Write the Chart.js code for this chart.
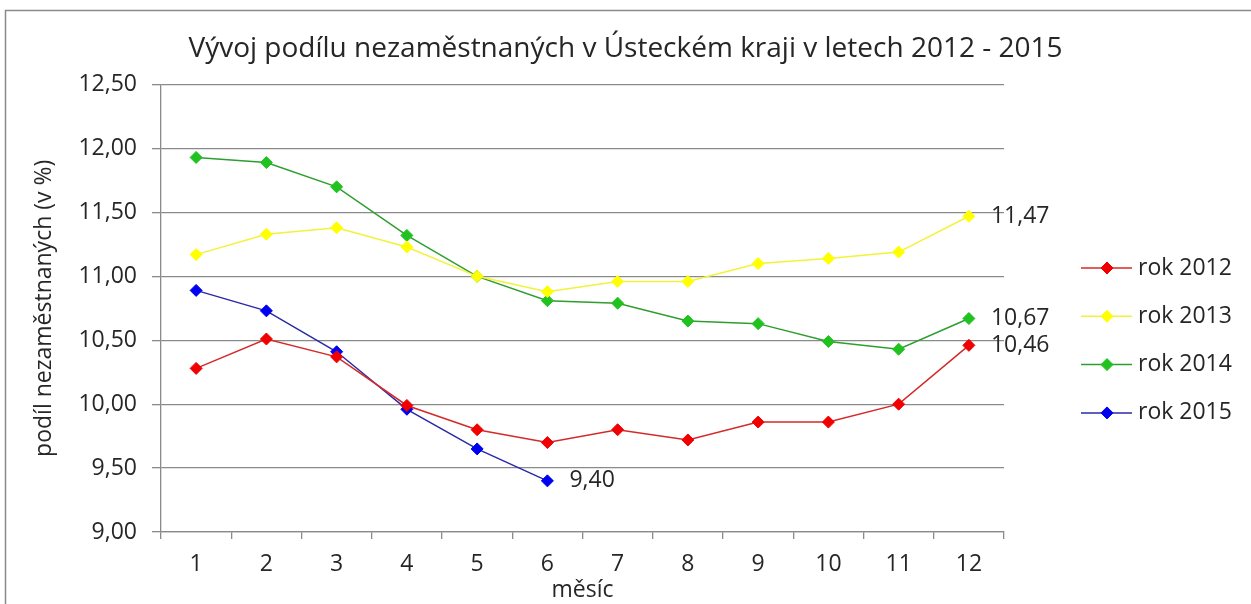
<!DOCTYPE html>
<html>
<head>
<meta charset="utf-8">
<script src="https://cdn.jsdelivr.net/npm/chart.js@4.4.0/dist/chart.umd.min.js"></script>
<style>
    html, body { margin: 0; padding: 0; background: #fff; }
    #wrap { position: relative; width: 1251px; height: 604px; }
</style>
</head>
<body>
<div id="wrap"><canvas id="graf"></canvas></div>
<script>
var mesice = ["1", "2", "3", "4", "5", "6", "7", "8", "9", "10", "11", "12"];
var rok2012 = [10.28, 10.51, 10.37, 9.99, 9.80, 9.70, 9.80, 9.72, 9.86, 9.86, 10.00, 10.46];
var rok2013 = [11.17, 11.33, 11.38, 11.23, 11.00, 10.88, 10.96, 10.96, 11.10, 11.14, 11.19, 11.47];
var rok2014 = [11.93, 11.89, 11.70, 11.32, 11.00, 10.81, 10.79, 10.65, 10.63, 10.49, 10.43, 10.67];
var rok2015 = [10.89, 10.73, 10.41, 9.96, 9.65, 9.40, null, null, null, null, null, null];
var yMin = 9, yMax = 12.5, yKrok = 0.5;

var pismo = "'Open Sans', sans-serif";
var velikost = 23;
var textBarva = "#262626";
var mrizka = "#8a8a8a";

function cislo(v) {
    return v.toFixed(2).replace(".", ",");
}

// bile pozadi + sedy ramecek
var pozadi = {
    id: "pozadi",
    beforeDraw: function (chart) {
        var ctx = chart.ctx;
        ctx.save();
        ctx.fillStyle = "#fff";
        ctx.fillRect(0, 0, chart.width, chart.height);
        ctx.strokeStyle = "#8a8a8a";
        ctx.lineWidth = 1.5;
        ctx.strokeRect(5.5, 10.5, 1400, 800);
        ctx.restore();
    }
};

// hodnota u posledniho bodu rady
var popisky = {
    id: "popisky",
    afterDatasetsDraw: function (chart) {
        var ctx = chart.ctx;
        ctx.save();
        ctx.font = velikost + "px " + pismo;
        ctx.fillStyle = textBarva;
        ctx.textAlign = "left";
        ctx.textBaseline = "middle";
        chart.data.datasets.forEach(function (ds, i) {
            var posl = -1;
            ds.data.forEach(function (v, j) { if (v !== null) posl = j; });
            var bod = chart.getDatasetMeta(i).data[posl];
            ctx.fillText(cislo(ds.data[posl]), bod.x + 22, bod.y);
        });
        ctx.restore();
    }
};

// legenda vpravo: cara + kosoctverec
var legenda = {
    id: "legenda",
    afterDraw: function (chart) {
        var ctx = chart.ctx;
        var x0 = 1081, y0 = 268, krok = 48.3;
        ctx.save();
        ctx.font = velikost + "px " + pismo;
        ctx.textBaseline = "middle";
        chart.data.datasets.forEach(function (ds, i) {
            var y = y0 + i * krok;
            ctx.strokeStyle = ds.borderColor;
            ctx.lineWidth = 1.5;
            ctx.beginPath();
            ctx.moveTo(x0, y);
            ctx.lineTo(x0 + 51, y);
            ctx.stroke();
            ctx.fillStyle = ds.pointBackgroundColor;
            ctx.strokeStyle = ds.pointBorderColor;
            ctx.lineWidth = 1;
            ctx.beginPath();
            ctx.moveTo(x0 + 26, y - 6);
            ctx.lineTo(x0 + 32, y);
            ctx.lineTo(x0 + 26, y + 6);
            ctx.lineTo(x0 + 20, y);
            ctx.closePath();
            ctx.fill();
            ctx.stroke();
            ctx.fillStyle = textBarva;
            ctx.fillText(ds.label, x0 + 57, y);
        });
        ctx.restore();
    }
};

function rada(nazev, data, cara, bod) {
    return {
        label: nazev,
        data: data,
        borderColor: cara,
        backgroundColor: bod,
        pointBackgroundColor: bod,
        pointBorderColor: bod,
        borderWidth: 1.5,
        pointStyle: "rectRot",
        pointRadius: 6,
        pointBorderWidth: 1,
        tension: 0,
        fill: false,
        spanGaps: false
    };
}

var graf = new Chart(document.getElementById("graf"), {
    type: "line",
    data: {
        labels: mesice,
        datasets: [
            rada("rok 2012", rok2012, "#d42a2a", "#f00000"),
            rada("rok 2013", rok2013, "#f2f23a", "#ffff00"),
            rada("rok 2014", rok2014, "#2e9e2e", "#1fc21f"),
            rada("rok 2015", rok2015, "#2a2aa8", "#0000f0")
        ]
    },
    options: {
        responsive: true,
        maintainAspectRatio: false,
        animation: false,
        layout: { padding: 0 },
        plugins: {
            legend: { display: false },
            tooltip: { enabled: false },
            title: {
                display: true,
                text: "Vývoj podílu nezaměstnaných v Ústeckém kraji v letech 2012 - 2015",
                color: textBarva,
                font: { family: pismo, size: 28, weight: "normal" },
                padding: { top: 32, bottom: 19 }
            }
        },
        scales: {
            x: {
                offset: true,
                grid: { drawOnChartArea: false, drawTicks: true, tickLength: 7, offset: true, color: mrizka, lineWidth: 1.3 },
                border: { color: mrizka, width: 1.3 },
                ticks: { color: textBarva, font: { family: pismo, size: velikost }, padding: 12, maxRotation: 0 },
                title: { display: true, text: "měsíc", color: textBarva, font: { family: pismo, size: velikost }, padding: 0 },
                afterFit: function (s) { s.height = 72; }
            },
            y: {
                min: yMin,
                max: yMax,
                ticks: {
                    stepSize: yKrok,
                    color: textBarva,
                    font: { family: pismo, size: velikost },
                    padding: 15,
                    callback: function (v) { return cislo(v); }
                },
                grid: { color: mrizka, lineWidth: 1.3, tickLength: 9 },
                border: { color: mrizka, width: 1.3 },
                title: { display: true, text: "podíl nezaměstnaných (v %)", color: textBarva, font: { family: pismo, size: velikost }, padding: 31 },
                afterFit: function (s) { s.width = 161; }
            },
            // prazdne misto vpravo pro legendu a popisky
            misto: {
                position: "right",
                display: true,
                grid: { display: false, drawTicks: false },
                border: { display: false },
                ticks: { display: false },
                afterFit: function (s) { s.width = 247; }
            }
        }
    },
    plugins: [pozadi, popisky, legenda]
});
</script>
</body>
</html>
